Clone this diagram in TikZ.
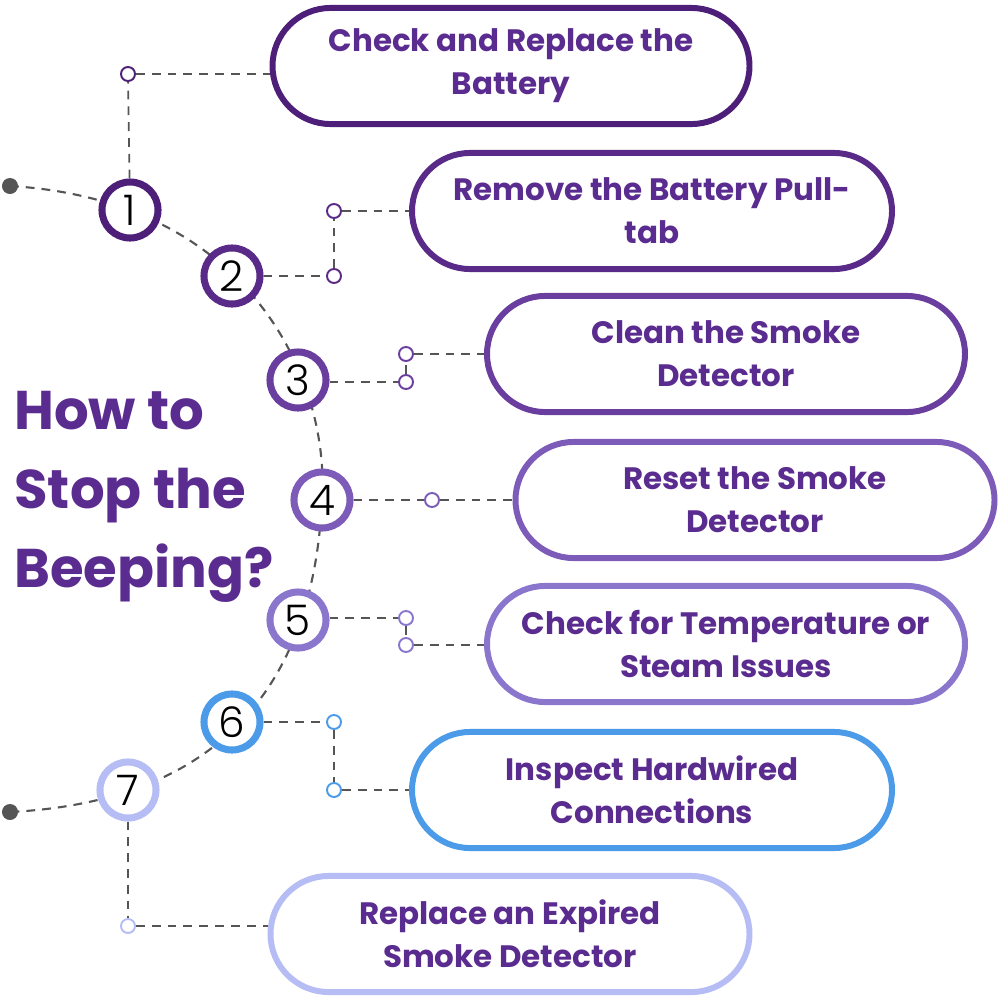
\documentclass[tikz,border=0pt]{standalone}
\usepackage{fontspec}
\setmainfont{Poppins}
\newfontfamily\numfont{Poppins Light}
\definecolor{c1}{HTML}{4E1F78}
\definecolor{c2}{HTML}{5A2A88}
\definecolor{c3}{HTML}{6A3E9E}
\definecolor{c4}{HTML}{7D5BB8}
\definecolor{c5}{HTML}{8A76CC}
\definecolor{c6}{HTML}{4C9BE8}
\definecolor{c7}{HTML}{B6BDF4}
\definecolor{ttl}{HTML}{5B2C8F}
\definecolor{dk}{HTML}{555555}
\begin{document}
\begin{tikzpicture}[x=0.01cm,y=-0.01cm,
 numc/.style={circle,draw=#1,line width=2pt,fill=white,minimum size=0.56cm,inner sep=0pt,font=\numfont\fontsize{12}{12}\selectfont},
 pill/.style={draw=#1,line width=1.7pt,rounded corners=0.58cm,fill=white,text=ttl,font=\bfseries\fontsize{8.8}{12.3}\selectfont,align=center},
 sm/.style={circle,draw=#1,line width=0.55pt,fill=white,minimum size=0.14cm,inner sep=0pt},
 dl/.style={dashed,dk,line width=0.5pt,dash pattern=on 2.5pt off 2pt}]
\useasboundingbox (0,0) rectangle (1000,1000);
\draw[dl,line width=0.6pt] (10,186) .. controls (250,200) and (330,380) .. (322,500) .. controls (315,650) and (250,800) .. (10,812);
\fill[dk] (10,186) circle (0.08cm);
\fill[dk] (10,812) circle (0.08cm);
\def\pl#1#2#3#4#5#6{\node[pill=#5,minimum width=#3*0.01cm-0.05cm,minimum height=1.16cm] (p#6) at (#1,#2) {#4};}
\pl{511}{66}{482}{Check and Replace the\\Battery}{c1}{1}
\pl{652}{211}{485}{Remove the Battery Pull-\\tab}{c2}{2}
\pl{726}{354}{483}{Clean the Smoke\\Detector}{c3}{3}
\pl{755}{500}{484}{Reset the Smoke\\Detector}{c4}{4}
\pl{726}{644}{483}{Check for Temperature or\\Steam Issues}{c5}{5}
\pl{652}{790}{485}{Inspect Hardwired\\Connections}{c6}{6}
\pl{510}{934}{484}{Replace an Expired\\Smoke Detector}{c7}{7}
\node[numc=c1] (n1) at (130,210) {1};
\node[numc=c2] (n2) at (232,276) {2};
\node[numc=c3] (n3) at (298,380) {3};
\node[numc=c4] (n4) at (322,500) {4};
\node[numc=c5] (n5) at (298,620) {5};
\node[numc=c6] (n6) at (232,722) {6};
\node[numc=c7] (n7) at (128,790) {7};
\node[sm=c1] (s1) at (128,74) {};
\node[sm=c2] (s2a) at (334,276) {};
\node[sm=c2] (s2b) at (334,211) {};
\node[sm=c3] (s3a) at (406,382) {};
\node[sm=c3] (s3b) at (406,354) {};
\node[sm=c4] (s4) at (432,500) {};
\node[sm=c5] (s5a) at (406,618) {};
\node[sm=c5] (s5b) at (406,645) {};
\node[sm=c6] (s6a) at (334,722) {};
\node[sm=c6] (s6b) at (334,790) {};
\node[sm=c7] (s7) at (128,926) {};
\draw[dl] (n1) -- (s1); \draw[dl] (s1) -- (p1.west|-s1);
\draw[dl] (n2) -- (s2a); \draw[dl] (s2a) -- (s2b); \draw[dl] (s2b) -- (p2.west|-s2b);
\draw[dl] (n3.east|-s3a) -- (s3a); \draw[dl] (s3a) -- (s3b); \draw[dl] (s3b) -- (p3.west|-s3b);
\draw[dl] (n4) -- (s4); \draw[dl] (s4) -- (p4.west|-s4);
\draw[dl] (n5.east|-s5a) -- (s5a); \draw[dl] (s5a) -- (s5b); \draw[dl] (s5b) -- (p5.west|-s5b);
\draw[dl] (n6) -- (s6a); \draw[dl] (s6a) -- (s6b); \draw[dl] (s6b) -- (p6.west|-s6b);
\draw[dl] (n7) -- (s7); \draw[dl] (s7) -- (p7.west|-s7);
\node[anchor=west,text=ttl,font=\bfseries\fontsize{15.5}{22.5}\selectfont,align=left] (t) at (2,497) {How to\\Stop the\\Beeping?};
\end{tikzpicture}
\end{document}
